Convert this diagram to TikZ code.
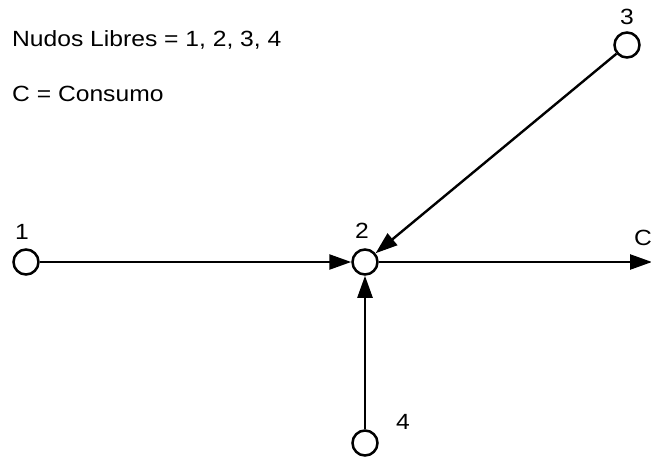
\documentclass[tikz,border=0pt]{standalone}
\usepackage{fontspec}
\setmainfont[FakeStretch=1.12]{Liberation Sans}
\usetikzlibrary{arrows.meta}
\begin{document}
\begin{tikzpicture}[x=1pt,y=-1pt,
  nudo/.style={circle,draw,line width=2.5pt,minimum size=25pt,inner sep=0pt,fill=white},
  lbl/.style={font=\fontsize{22}{26}\selectfont,inner sep=0pt},
  flujo/.style={line width=2.4pt,-{Triangle[length=22pt,width=15pt]}}]
\useasboundingbox (0,0) rectangle (651,458);
\node[lbl,anchor=west] (t1) at (12,40) {Nudos Libres = 1, 2, 3, 4};
\node[lbl,anchor=west] (t2) at (12,94) {C = Consumo};
\node[nudo] (n1) at (26,262) {};
\node[nudo] (n2) at (365,262) {};
\node[nudo] (n3) at (627,45) {};
\node[nudo] (n4) at (365,443) {};
\coordinate (c) at (652,262);
\node[lbl] (l1) at (22,232) {1};
\node[lbl] (l2) at (362,231) {2};
\node[lbl] (l3) at (627,17) {3};
\node[lbl] (l4) at (403,422) {4};
\node[lbl] (lc) at (643,238) {C};
\draw[flujo] (n1) -- (n2);
\draw[flujo] (n3) -- (n2);
\draw[flujo] (n4) -- (n2);
\draw[flujo] (n2) -- (c);
\end{tikzpicture}
\end{document}
